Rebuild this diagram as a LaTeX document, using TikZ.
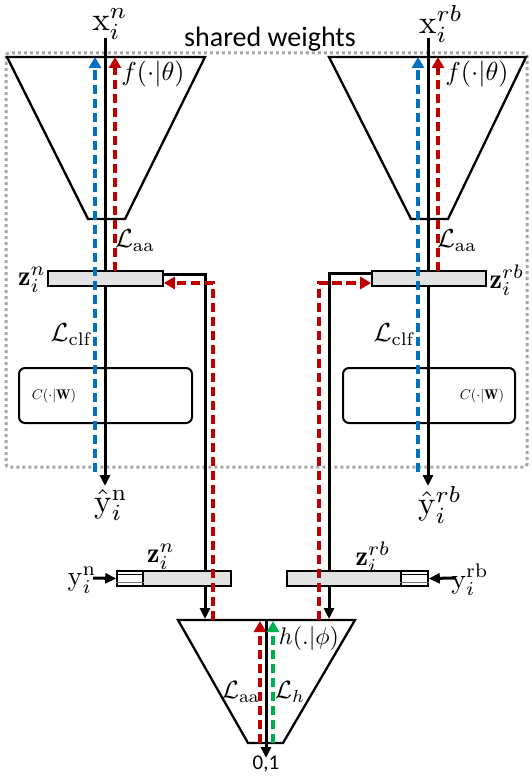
\documentclass[tikz,border=0pt]{standalone}
\usepackage{fontspec}
\usepackage{graphicx}
\newfontfamily\calib{Carlito}
\usetikzlibrary{arrows.meta}
\definecolor{cblue}{HTML}{0070C0}
\definecolor{cred}{HTML}{C00000}
\definecolor{cgreen}{HTML}{00B050}
\definecolor{cgray}{HTML}{A6A6A6}
\definecolor{zfill}{HTML}{E2E2E2}
\newcommand\fsz[1]{\fontsize{#1}{#1}\selectfont}
\newcommand\msz[2]{\scalebox{#1}{$#2$}}
\begin{document}
\begin{tikzpicture}[x=1pt,y=-1pt,
  blk/.style={line width=3pt, -{Triangle[length=11pt,width=10pt]}},
  dsh/.style={line width=3.6pt, dash pattern=on 9.5pt off 4.5pt, -{Triangle[length=11pt,width=12pt]}},
  trap/.style={draw, line width=2.3pt, line join=miter},
  zbox/.style={draw, line width=1.6pt, fill=zfill, inner sep=0pt},
  hbox/.style={draw, line width=1.6pt, fill=white, inner sep=0pt},
  cbox/.style={draw, line width=2pt, rounded corners=6pt, inner sep=0pt},
  lbl/.style={inner sep=0pt},
  frame/.style={cgray, line width=3pt, dash pattern=on 3pt off 3pt, rounded corners=3pt}]
\useasboundingbox (0,0) rectangle (532,776);

% shared-weights frame
\draw[frame] (6,53) rectangle (527,467);
\node[lbl] (shared) at (270,39) {\calib\fsz{28}shared weights};

% trapezoids (encoders and discriminator)
\draw[trap] (7,57) -- (205,57) -- (125,219) -- (88,219) -- cycle;
\draw[trap] (329,57) -- (526,57) -- (448,219) -- (411,219) -- cycle;
\draw[trap] (178,620) -- (355,620) -- (283,743) -- (248,743) -- cycle;

% coordinates
\coordinate (xnTop) at (105,38);
\coordinate (xrTop) at (428,38);
\coordinate (ynEnd) at (105,486);
\coordinate (yrEnd) at (428,486);
\coordinate (bnTop) at (95,57);
\coordinate (bnBot) at (95,472);
\coordinate (brTop) at (418,57);
\coordinate (brBot) at (418,472);
\coordinate (rnTop) at (115,57);
\coordinate (rnBot) at (115,271);
\coordinate (rrTop) at (438,57);
\coordinate (rrBot) at (438,271);
\coordinate (cornL) at (205,274);
\coordinate (cornR) at (329,273);
\coordinate (hInL) at (205,619);
\coordinate (hInR) at (329,619);
\coordinate (rCornL) at (213,283);
\coordinate (rCornR) at (319,283);
\coordinate (rStartL) at (213,620);
\coordinate (rStartR) at (319,620);
\coordinate (hOutTop) at (266,620);
\coordinate (hOut) at (266,758);
\coordinate (hRedBot) at (260,743);
\coordinate (hRedTop) at (260,621);
\coordinate (hGrnBot) at (273,743);
\coordinate (hGrnTop) at (273,621);
\coordinate (ynIn) at (93,578);
\coordinate (yrIn) at (455,578);

% classifier boxes
\node[cbox, minimum width=173pt, minimum height=55pt] (cn) at (105.5,395.5) {};
\node[cbox, minimum width=172pt, minimum height=55pt] (cr) at (429,395.5) {};

% main black flows
\draw[blk] (xnTop) -- (ynEnd);
\draw[blk] (xrTop) -- (yrEnd);
\draw[blk] (hOutTop) -- (hOut);

% top latent boxes
\node[zbox, minimum width=115pt, minimum height=15pt] (zn) at (105.5,278.5) {};
\node[zbox, minimum width=114pt, minimum height=15pt] (zr) at (429,278.5) {};

% black flows from latents to discriminator
\draw[blk] ([yshift=4.5pt]zn.east) -- (cornL) -- (hInL);
\draw[blk] ([yshift=5.5pt]zr.west) -- (cornR) -- (hInR);

% bottom latent boxes with labels
\node[zbox, minimum width=88pt, minimum height=15pt] (zbn) at (187,578.5) {};
\node[hbox, minimum width=26pt, minimum height=15pt] (hbn) at (130,578.5) {};
\node[zbox, minimum width=114pt, minimum height=15pt] (zbr) at (344,578.5) {};
\node[hbox, minimum width=27pt, minimum height=15pt] (hbr) at (414.5,578.5) {};
\draw[line width=1pt] ([yshift=-4pt]hbn.north west) -- ([yshift=-4pt]hbn.north east);
\draw[line width=1.4pt, black!55] ([yshift=4.5pt]hbn.south west) -- ([yshift=4.5pt]hbn.south east);
\draw[line width=1pt] ([yshift=-4pt]hbr.north west) -- ([yshift=-4pt]hbr.north east);
\draw[line width=1.4pt, black!55] ([yshift=4.5pt]hbr.south west) -- ([yshift=4.5pt]hbr.south east);
\draw[blk] (ynIn) -- (hbn.west);
\draw[blk] (yrIn) -- (hbr.east);

% gradient flows
\draw[dsh, cblue] (bnBot) -- (bnTop);
\draw[dsh, cblue] (brBot) -- (brTop);
\draw[dsh, cred] (rnBot) -- (rnTop);
\draw[dsh, cred] (rrBot) -- (rrTop);
\draw[dsh, cred] (rStartL) -- (rCornL) -- ([yshift=-4.5pt]zn.east);
\draw[dsh, cred] (rStartR) -- (rCornR) -- ([yshift=-4.5pt]zr.west);
\draw[dsh, cred] (hRedBot) -- (hRedTop);
\draw[dsh, cgreen] (hGrnBot) -- (hGrnTop);

% labels
\node[lbl] (lxn) at (110,24) {\msz{3.3}{\mathrm{x}_i^{n}}};
\node[lbl] (lxr) at (441,24) {\msz{3.3}{\mathrm{x}_i^{rb}}};
\node[lbl] (lfn) at (153,74) {\msz{2.6}{f(\cdot|\theta)}};
\node[lbl] (lfr) at (477,74) {\msz{2.6}{f(\cdot|\theta)}};
\node[lbl] (laan) at (135,241) {\msz{2.6}{\mathcal{L}_{\mathrm{aa}}}};
\node[lbl] (laar) at (457,241) {\msz{2.6}{\mathcal{L}_{\mathrm{aa}}}};
\node[lbl] (lzn) at (32,280) {\msz{2.8}{\mathbf{z}_i^{n}}};
\node[lbl] (lzr) at (507,280) {\msz{2.8}{\mathbf{z}_i^{rb}}};
\node[lbl] (lcn) at (71,335) {\msz{2.6}{\mathcal{L}_{\mathrm{clf}}}};
\node[lbl] (lcr) at (394,335) {\msz{2.6}{\mathcal{L}_{\mathrm{clf}}}};
\node[lbl] (lccn) at (54,396) {\msz{1.4}{C(\cdot|\mathbf{W})}};
\node[lbl] (lccr) at (482,396) {\msz{1.4}{C(\cdot|\mathbf{W})}};
\node[lbl] (lyn) at (111,505) {\msz{3.3}{\hat{\mathrm{y}}_i^{\mathrm{n}}}};
\node[lbl] (lyr) at (440,505) {\msz{3.3}{\hat{\mathrm{y}}_i^{rb}}};
\node[lbl] (lzbn) at (161,557) {\msz{2.8}{\mathbf{z}_i^{n}}};
\node[lbl] (lzbr) at (373,557) {\msz{2.8}{\mathbf{z}_i^{rb}}};
\node[lbl] (lybn) at (82,580) {\msz{2.8}{\mathrm{y}_i^{\mathrm{n}}}};
\node[lbl] (lybr) at (470,580) {\msz{2.8}{\mathrm{y}_i^{\mathrm{rb}}}};
\node[lbl] (lh) at (309,638) {\msz{2.4}{h(.|\phi)}};
\node[lbl] (lhaa) at (241,692) {\msz{2.5}{\mathcal{L}_{\mathrm{aa}}}};
\node[lbl] (lhh) at (290,692) {\msz{2.5}{\mathcal{L}_{h}}};
\node[lbl] (l01) at (266,764) {\calib\fsz{21}0,1};
\end{tikzpicture}
\end{document}
